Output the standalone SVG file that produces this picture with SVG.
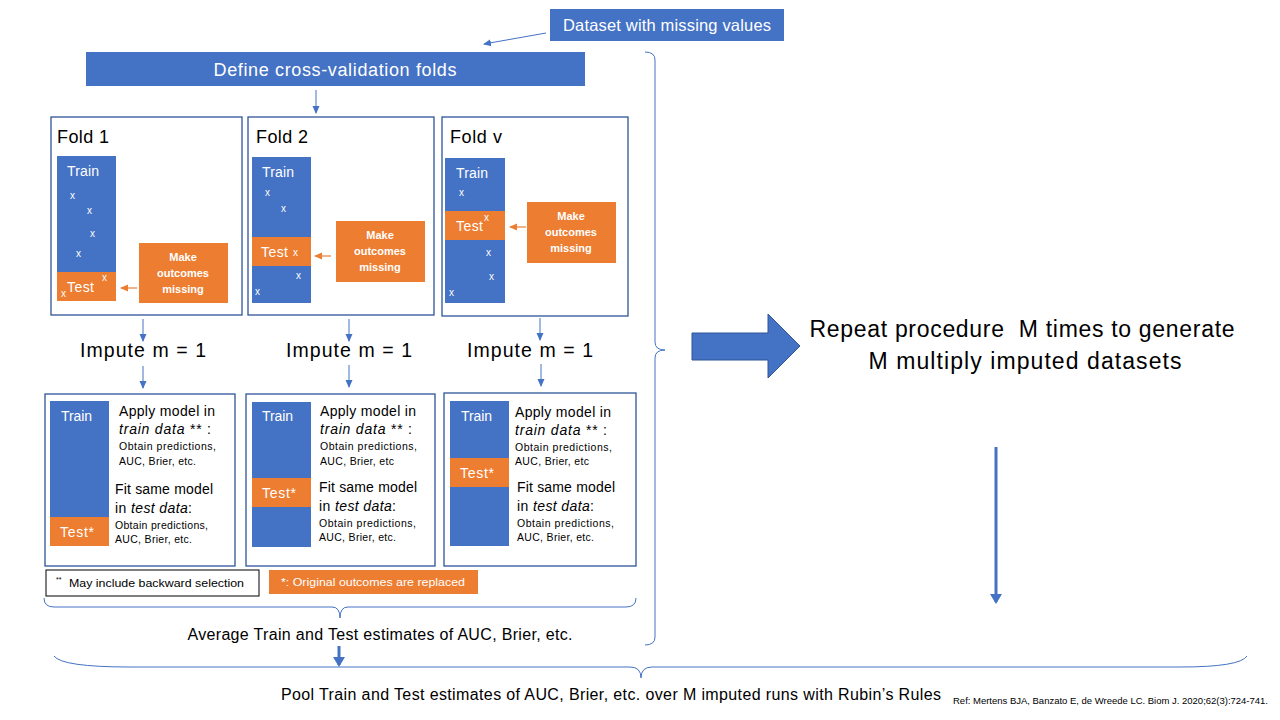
<svg xmlns="http://www.w3.org/2000/svg" width="1280" height="720" viewBox="0 0 1280 720">
<style>
text{font-family:"Liberation Sans",Arial,sans-serif;}
.bluebox{fill:#4472C4;}
.orange{fill:#ED7D31;}
.frame{fill:#fff;stroke:#2F5597;stroke-width:1.3;}
.w{fill:#fff;}
.k{fill:#000;}
.ttl{font-size:18px;fill:#000;}
.tr{font-size:14px;fill:#fff;}
.x{font-size:10px;fill:#fff;}
.mk{font-size:11px;font-weight:bold;fill:#fff;text-anchor:middle;}
.big{font-size:14px;fill:#000;}
.sm{font-size:10.5px;fill:#000;}
.imp{font-size:19.5px;fill:#000;text-anchor:middle;}
.con{stroke:#4472C4;stroke-width:1;fill:none;}
.cono{stroke:#ED7D31;stroke-width:1.2;fill:none;}
.brace{stroke:#4472C4;stroke-width:1;fill:none;}
.thick{stroke:#4472C4;stroke-width:3;fill:none;}
</style>
<defs>
<marker id="ah" markerUnits="userSpaceOnUse" markerWidth="8" markerHeight="8" refX="7" refY="4" orient="auto"><path d="M0,0.5 L8,4 L0,7.5 z" fill="#4472C4"/></marker>
<marker id="aho" markerUnits="userSpaceOnUse" markerWidth="8" markerHeight="8" refX="7" refY="4" orient="auto"><path d="M0,0.5 L8,4 L0,7.5 z" fill="#ED7D31"/></marker>
<marker id="ahb" markerUnits="userSpaceOnUse" markerWidth="12" markerHeight="12" refX="8" refY="6" orient="auto"><path d="M0,0 L10,6 L0,12 z" fill="#4472C4"/></marker>
</defs>
<rect width="1280" height="720" fill="#fff"/>

<g id="dataset">
<rect class="bluebox" x="550" y="9" width="234" height="32"/>
<text x="667" y="31" text-anchor="middle" font-size="16.5" class="w" textLength="208">Dataset with missing values</text>
</g>

<g id="define">
<rect class="bluebox" x="86" y="52" width="499" height="34"/>
<text x="335" y="76" text-anchor="middle" font-size="18" class="w" textLength="243">Define cross-validation folds</text>
</g>

<g id="fold1">
<rect class="frame" x="51" y="117" width="191" height="198"/>
<text class="ttl" x="57" y="143" textLength="52">Fold 1</text>
<rect class="bluebox" x="57" y="156" width="59" height="116"/>
<rect class="orange" x="57" y="272" width="59" height="29"/>
<text class="tr" x="67" y="176" textLength="32">Train</text>
<text class="x" x="70" y="199">x</text>
<text class="x" x="87" y="214">x</text>
<text class="x" x="90" y="237">x</text>
<text class="x" x="76" y="257">x</text>
<text class="tr" x="67" y="292" textLength="27">Test</text>
<text class="x" x="102" y="281">x</text>
<text class="x" x="61" y="297">x</text>
<rect class="orange" x="139" y="243" width="89" height="60"/>
<text class="mk" x="183" y="261">Make</text>
<text class="mk" x="183" y="277">outcomes</text>
<text class="mk" x="183" y="293">missing</text>
</g>

<g id="fold2">
<rect class="frame" x="248" y="117" width="186" height="198"/>
<text class="ttl" x="256" y="143" textLength="52">Fold 2</text>
<rect class="bluebox" x="252" y="157" width="59" height="80"/>
<rect class="orange" x="252" y="237" width="59" height="29"/>
<rect class="bluebox" x="252" y="266" width="59" height="37"/>
<text class="tr" x="262" y="177" textLength="32">Train</text>
<text class="x" x="265" y="196">x</text>
<text class="x" x="281" y="212">x</text>
<text class="tr" x="261" y="257" textLength="27">Test</text>
<text class="x" x="293" y="256">x</text>
<text class="x" x="296" y="279">x</text>
<text class="x" x="255" y="295">x</text>
<rect class="orange" x="336" y="221" width="89" height="61"/>
<text class="mk" x="380" y="239">Make</text>
<text class="mk" x="380" y="255">outcomes</text>
<text class="mk" x="380" y="271">missing</text>
</g>

<g id="foldv">
<rect class="frame" x="442" y="117" width="186" height="199"/>
<text class="ttl" x="450" y="143" textLength="52">Fold v</text>
<rect class="bluebox" x="445" y="158" width="60" height="53"/>
<rect class="orange" x="445" y="211" width="60" height="29"/>
<rect class="bluebox" x="445" y="240" width="60" height="63"/>
<text class="tr" x="456" y="178" textLength="32">Train</text>
<text class="x" x="459" y="196">x</text>
<text class="tr" x="456" y="231" textLength="27">Test</text>
<text class="x" x="484" y="221">x</text>
<text class="x" x="486" y="256">x</text>
<text class="x" x="489" y="280">x</text>
<text class="x" x="449" y="296">x</text>
<rect class="orange" x="527" y="202" width="89" height="61"/>
<text class="mk" x="571" y="220">Make</text>
<text class="mk" x="571" y="236">outcomes</text>
<text class="mk" x="571" y="252">missing</text>
</g>

<g id="impute1"><text class="imp" x="143" y="357" textLength="126">Impute m = 1</text></g>
<g id="impute2"><text class="imp" x="349" y="357" textLength="126">Impute m = 1</text></g>
<g id="imputev"><text class="imp" x="530" y="357" textLength="126">Impute m = 1</text></g>

<g id="result1">
<rect class="frame" x="45" y="394" width="190" height="172"/>
<rect class="bluebox" x="50" y="401" width="59" height="116"/>
<rect class="orange" x="50" y="517" width="59" height="29"/>
<text class="tr" x="61" y="421" textLength="31">Train</text>
<text class="tr" x="60" y="537" textLength="34">Test*</text>
<text class="big" x="119" y="416" textLength="96">Apply model in</text>
<text class="big" x="119" y="434" textLength="92"><tspan font-style="italic">train data</tspan> ** :</text>
<text class="sm" x="119" y="450" textLength="97">Obtain predictions,</text>
<text class="sm" x="119" y="465" textLength="77">AUC, Brier, etc.</text>
<text class="big" x="115" y="494" textLength="98">Fit same model</text>
<text class="big" x="115" y="513" textLength="77">in <tspan font-style="italic">test data</tspan>:</text>
<text class="sm" x="115" y="529" textLength="93">Obtain predictions,</text>
<text class="sm" x="115" y="543" textLength="77">AUC, Brier, etc.</text>
</g>

<g id="result2">
<rect class="frame" x="246" y="394" width="189" height="172"/>
<rect class="bluebox" x="252" y="402" width="59" height="76"/>
<rect class="orange" x="252" y="478" width="59" height="29"/>
<rect class="bluebox" x="252" y="507" width="59" height="40"/>
<text class="tr" x="262" y="421" textLength="31">Train</text>
<text class="tr" x="262" y="498" textLength="34">Test*</text>
<text class="big" x="320" y="416" textLength="96">Apply model in</text>
<text class="big" x="320" y="434" textLength="92"><tspan font-style="italic">train data</tspan> ** :</text>
<text class="sm" x="320" y="450" textLength="97">Obtain predictions,</text>
<text class="sm" x="320" y="465" textLength="74">AUC, Brier, etc</text>
<text class="big" x="319" y="492" textLength="98">Fit same model</text>
<text class="big" x="319" y="511" textLength="77">in <tspan font-style="italic">test data</tspan>:</text>
<text class="sm" x="319" y="527" textLength="97">Obtain predictions,</text>
<text class="sm" x="319" y="541" textLength="77">AUC, Brier, etc.</text>
</g>

<g id="resultv">
<rect class="frame" x="444" y="393" width="192" height="173"/>
<rect class="bluebox" x="450" y="401" width="59" height="57"/>
<rect class="orange" x="450" y="458" width="59" height="29"/>
<rect class="bluebox" x="450" y="487" width="59" height="59"/>
<text class="tr" x="461" y="421" textLength="31">Train</text>
<text class="tr" x="460" y="478" textLength="34">Test*</text>
<text class="big" x="515" y="417" textLength="96">Apply model in</text>
<text class="big" x="515" y="435" textLength="92"><tspan font-style="italic">train data</tspan> ** :</text>
<text class="sm" x="515" y="451" textLength="97">Obtain predictions,</text>
<text class="sm" x="515" y="465" textLength="74">AUC, Brier, etc</text>
<text class="big" x="517" y="492" textLength="98">Fit same model</text>
<text class="big" x="517" y="511" textLength="77">in <tspan font-style="italic">test data</tspan>:</text>
<text class="sm" x="517" y="527" textLength="97">Obtain predictions,</text>
<text class="sm" x="517" y="541" textLength="77">AUC, Brier, etc.</text>
</g>

<g id="note1">
<rect x="46" y="570" width="213" height="26" fill="#fff" stroke="#000" stroke-width="1"/>
<text x="56" y="582" font-size="7" class="k">**</text>
<text x="69" y="587" font-size="11.5" class="k" textLength="175" lengthAdjust="spacingAndGlyphs">May include backward selection</text>
</g>

<g id="note2">
<rect class="orange" x="269" y="570" width="209" height="24"/>
<text x="281" y="586" font-size="11.5" class="w" textLength="184" lengthAdjust="spacingAndGlyphs">*: Original outcomes are replaced</text>
</g>

<g id="average">
<text x="380" y="640" text-anchor="middle" font-size="16" class="k" textLength="385">Average Train and Test estimates of AUC, Brier, etc.</text>
</g>

<g id="repeat">
<text x="1022" y="337" text-anchor="middle" font-size="23" class="k" textLength="425" style="white-space:pre" xml:space="preserve">Repeat procedure  M times to generate</text>
<text x="1025" y="369" text-anchor="middle" font-size="23" class="k" textLength="313">M multiply imputed datasets</text>
</g>

<g id="pool">
<text x="281" y="700" font-size="16" class="k" textLength="660">Pool Train and Test estimates of AUC, Brier, etc. over M imputed runs with Rubin’s Rules</text>
<text x="953" y="704" font-size="9.5" class="k" textLength="315">Ref: Mertens BJA, Banzato E, de Wreede LC. Biom J. 2020;62(3):724-741.</text>
</g>

<g id="connectors">
<line class="con" x1="546" y1="33" x2="484" y2="44" marker-end="url(#ah)"/>
<line class="con" x1="316" y1="90" x2="316" y2="113" marker-end="url(#ah)"/>
<line class="cono" x1="137" y1="288" x2="121" y2="288" marker-end="url(#aho)"/>
<line class="cono" x1="331" y1="256" x2="315" y2="256" marker-end="url(#aho)"/>
<line class="cono" x1="526" y1="227" x2="510" y2="227" marker-end="url(#aho)"/>
<line class="con" x1="143" y1="319" x2="143" y2="341" marker-end="url(#ah)"/>
<line class="con" x1="349" y1="319" x2="349" y2="341" marker-end="url(#ah)"/>
<line class="con" x1="540" y1="318" x2="540" y2="340" marker-end="url(#ah)"/>
<line class="con" x1="143" y1="366" x2="143" y2="388" marker-end="url(#ah)"/>
<line class="con" x1="349" y1="365" x2="349" y2="387" marker-end="url(#ah)"/>
<line class="con" x1="541" y1="364" x2="541" y2="386" marker-end="url(#ah)"/>
<path class="brace" d="M44,598 Q44,607 54,607 L332,607 Q340,607 340,618 Q340,607 348,607 L626,607 Q636,607 636,598"/>
<path class="brace" d="M645,52 Q655,52 655,60 L655,342 Q655,350 665,350 Q655,350 655,358 L655,637 Q655,645 645,645"/>
<path class="brace" d="M54,656 Q62,667 130,667 L630,667 Q641,667 641,678 Q641,667 652,667 L1180,667 Q1240,667 1247,656"/>
<line class="thick" x1="339" y1="646" x2="339" y2="665" marker-end="url(#ahb)"/>
<line class="thick" x1="996" y1="447" x2="996" y2="602" marker-end="url(#ahb)"/>
<path d="M692,333 L768,333 L768,314 L800,346 L768,378 L768,360 L692,360 z" fill="#4472C4" stroke="#2F5597" stroke-width="1"/>
</g>
</svg>
